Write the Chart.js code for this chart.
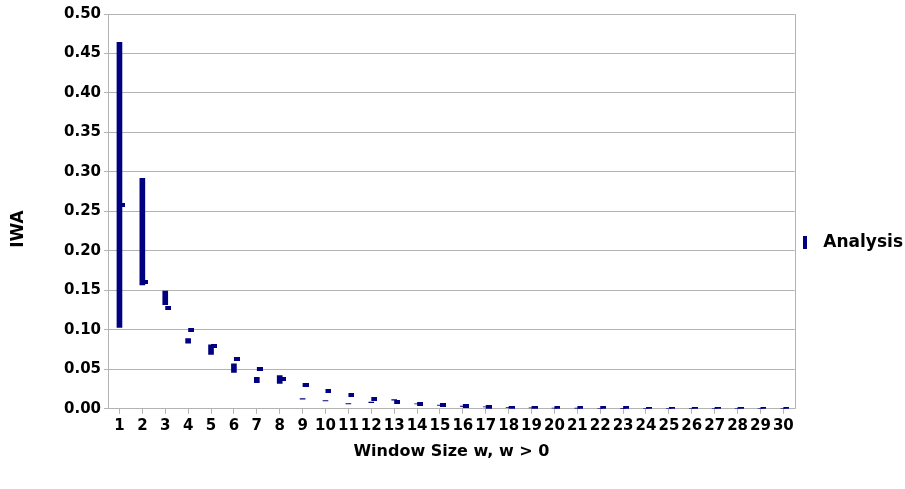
<!DOCTYPE html>
<html>
<head>
<meta charset="utf-8">
<script src="https://cdn.jsdelivr.net/npm/chart.js@4"></script>
<style>
  html, body { margin: 0; padding: 0; background: #fff; }
  #wrap { width: 905px; height: 489px; }
</style>
</head>
<body>
<div id="wrap"><canvas id="myChart"></canvas></div>
<script>
const windowSizes = ['1','2','3','4','5','6','7','8','9','10','11','12','13','14','15',
                     '16','17','18','19','20','21','22','23','24','25','26','27','28','29','30'];
const highValues = [0.464, 0.292, 0.149, 0.089, 0.081, 0.057, 0.040, 0.042, 0.0129, 0.0104, 0.0066, 0.0084, 0.0117,
                    0.0064, 0.0046, 0.0033, 0.0025, 0.0017, 0.0013, 0.0010, 0.0008, 0.0006, 0.0005, 0.0004, 0.0003, 0.0003, 0.0002, 0.0002, 0.0002, 0.0002];
const lowValues  = [0.103, 0.157, 0.132, 0.083, 0.069, 0.046, 0.033, 0.032, 0.0123, 0.0099, 0.0061, 0.0079, 0.0110,
                    0.0062, 0.0044, 0.0031, 0.0023, 0.0015, 0.0011, 0.0008, 0.0006, 0.0004, 0.0003, 0.0002, 0.0001, 0.0001, 0.0001, 0.0001, 0.0001, 0.0001];
const closeValues = [0.258, 0.160, 0.128, 0.100, 0.080, 0.063, 0.050, 0.038, 0.030, 0.0225, 0.017, 0.0125, 0.009,
                     0.0063, 0.0045, 0.0032, 0.0024, 0.0016, 0.0012, 0.0009, 0.0007, 0.0005, 0.0004, 0.0003, 0.0002, 0.0002, 0.0001, 0.0001, 0.0001, 0.0001];

const navy = '#000080';
const gridGray = '#b3b3b3';
const fontFamily = "'DejaVu Sans', 'Liberation Sans', sans-serif";

// close marker: small block that sticks out to the right of the bar
const closeMark = document.createElement('canvas');
closeMark.width = 12; closeMark.height = 4;
closeMark.getContext('2d').fillStyle = navy;
closeMark.getContext('2d').fillRect(6, 0, 6, 4);

// legend symbol: short vertical bar
const legendMark = document.createElement('canvas');
legendMark.width = 4; legendMark.height = 13;
legendMark.getContext('2d').fillStyle = navy;
legendMark.getContext('2d').fillRect(0, 0, 4, 13);

// right border of the plot + the y axis title (sits a bit below the middle in the original)
const frame = {
    id: 'frame',
    afterDraw(chart) {
        const a = chart.chartArea, ctx = chart.ctx;
        ctx.save();
        ctx.strokeStyle = gridGray;
        ctx.lineWidth = 1;
        ctx.beginPath();
        ctx.moveTo(Math.round(a.right) + 0.5, a.top);
        ctx.lineTo(Math.round(a.right) + 0.5, a.bottom);
        ctx.stroke();

        ctx.translate(19, 229);
        ctx.rotate(-Math.PI / 2);
        ctx.font = "bold 17px " + fontFamily;
        ctx.fillStyle = '#000';
        ctx.textAlign = 'center';
        ctx.textBaseline = 'middle';
        ctx.fillText('IWA', 0, 0);
        ctx.restore();
    }
};

Chart.defaults.font.family = fontFamily;
Chart.defaults.font.weight = 'bold';
Chart.defaults.font.size = 15;
Chart.defaults.color = '#000';

new Chart("myChart", {
    data: {
        labels: windowSizes,
        datasets: [{
            type: 'bar',
            label: 'Analysis',
            data: lowValues.map((v, i) => [v, highValues[i]]),
            backgroundColor: navy,
            barThickness: 5,
            pointStyle: legendMark,
            order: 2
        }, {
            type: 'line',
            label: 'Close',
            data: closeValues,
            showLine: false,
            pointStyle: closeMark,
            pointRadius: 3,
            order: 1
        }]
    },
    options: {
        responsive: true,
        maintainAspectRatio: false,
        animation: false,
        layout: { padding: { top: 14, left: 61, right: -8, bottom: 28 } },
        plugins: {
            tooltip: { enabled: false },
            legend: {
                position: 'right',
                title: { display: true, text: ' ', font: { size: 8 }, padding: { top: 1, bottom: 0 } },
                labels: {
                    usePointStyle: true,
                    pointStyleWidth: 20,
                    font: { size: 17, weight: 'bold' },
                    padding: 0,
                    filter: item => item.datasetIndex === 0
                }
            }
        },
        scales: {
            x: {
                offset: true,
                grid: { offset: false, drawOnChartArea: false, tickLength: 5, color: gridGray },
                border: { color: gridGray },
                ticks: { autoSkip: false, maxRotation: 0, padding: 3 },
                title: { display: true, text: 'Window Size w, w > 0', font: { size: 16 }, padding: { top: 4, bottom: 0 } }
            },
            y: {
                min: 0,
                max: 0.5,
                grid: { color: gridGray, tickLength: 4 },
                border: { color: gridGray },
                ticks: { stepSize: 0.05, padding: 3, callback: v => v.toFixed(2) }
            }
        }
    },
    plugins: [frame]
});
</script>
</body>
</html>
